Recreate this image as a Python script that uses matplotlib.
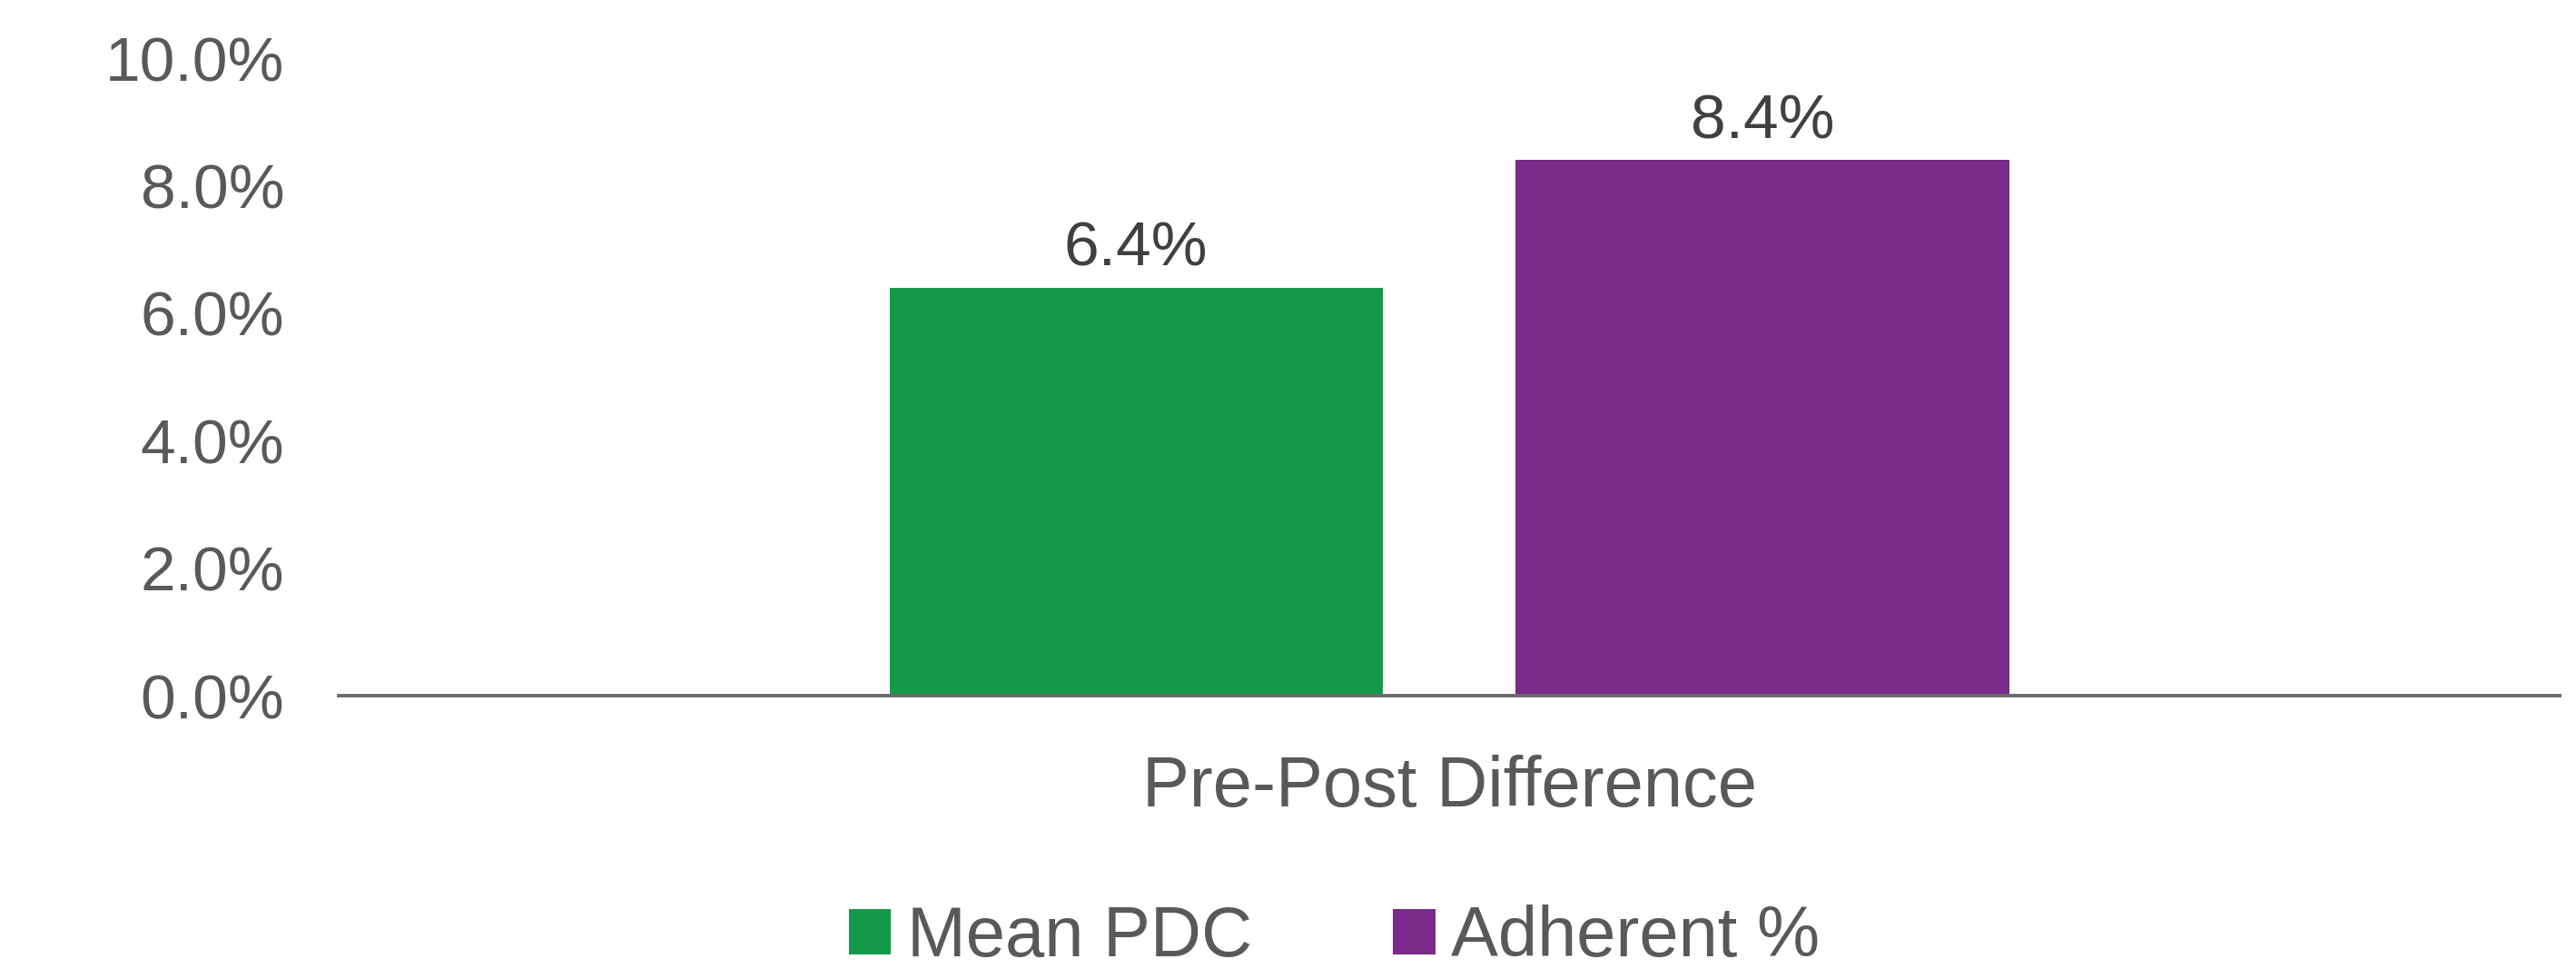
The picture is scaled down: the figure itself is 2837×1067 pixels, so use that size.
import matplotlib
matplotlib.use('Agg')
import matplotlib.pyplot as plt
from matplotlib.ticker import PercentFormatter

categories = ['Pre-Post Difference']
series_names = ['Mean PDC', 'Adherent %']
series_values = [6.4, 8.4]
series_colors = ['#129A48', '#7A2A8A']
yticks = [0, 2, 4, 6, 8, 10]

plt.rcParams['font.family'] = ['Liberation Sans', 'DejaVu Sans']

fig = plt.figure(figsize=(28.37, 10.67), dpi=100)
ax = fig.add_axes([0.1315, 0.282, 0.8622, 0.658])

bar_width = 0.222
offsets = [-0.141, 0.141]
for name, val, col, off in zip(series_names, series_values, series_colors, offsets):
    ax.bar(off, val, width=bar_width, color=col, label=name)
    ax.text(off, val + 0.14, '%.1f%%' % val, ha='center', va='bottom',
            fontsize=50, color='#404040')

ax.set_xlim(-0.5, 0.5)
ax.set_ylim(0, 10)
ax.set_yticks(yticks)
ax.yaxis.set_major_formatter(PercentFormatter(decimals=1))
ax.set_xticks([0])
ax.set_xticklabels(categories)
ax.tick_params(axis='y', length=0, pad=43, labelsize=50, labelcolor='#595959')
ax.tick_params(axis='x', length=0, pad=47, labelsize=56, labelcolor='#595959')

for s in ['top', 'right', 'left']:
    ax.spines[s].set_visible(False)
ax.spines['bottom'].set_color('#6b6b6b')
ax.spines['bottom'].set_linewidth(2.8)

leg = fig.legend(loc='center', bbox_to_anchor=(0.518, 0.032), ncol=2, frameon=False,
                 fontsize=56, handlelength=0.6, handleheight=0.6,
                 handletextpad=0.22, columnspacing=2.0, borderaxespad=0)
for t in leg.get_texts():
    t.set_color('#595959')

fig.savefig('out.png', dpi=100)
